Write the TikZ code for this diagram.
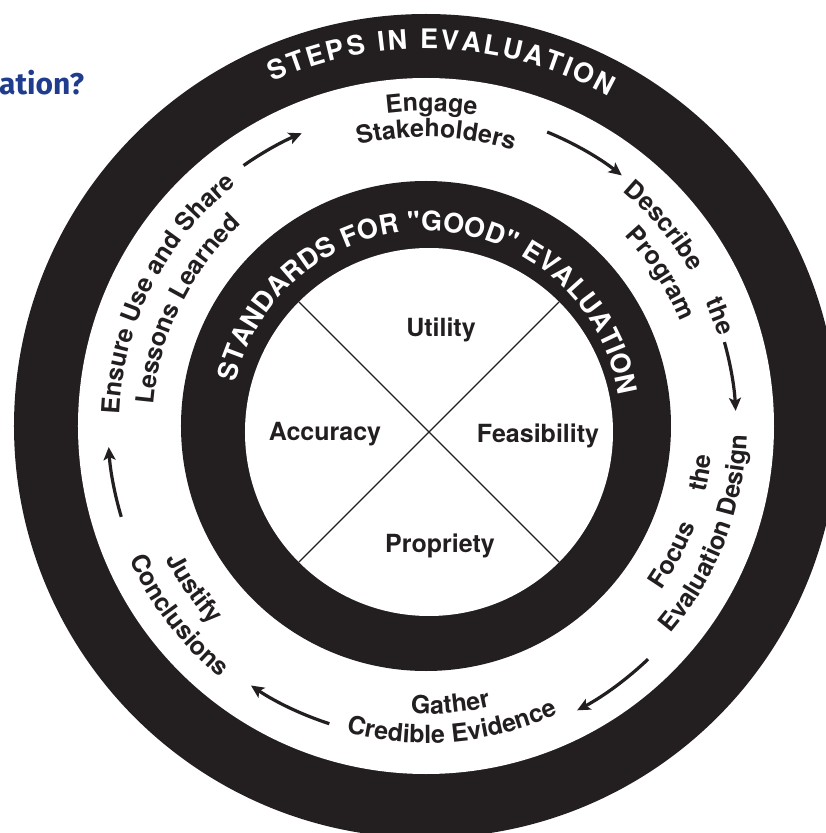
\documentclass[tikz,border=0pt]{standalone}
\usepackage{fontspec}
\newfontfamily\heros{TeX Gyre Heros}
\newfontfamily\headfont{Fira Sans}
\usetikzlibrary{decorations.text,arrows.meta}
\definecolor{evdark}{HTML}{231F20}
\definecolor{evblue}{HTML}{1F3D8C}
\newcommand\ringfont{\heros\bfseries\fontsize{27}{30}\selectfont}
\newcommand\stepfont{\heros\bfseries\fontsize{25}{28}\selectfont}

\begin{document}
\begin{tikzpicture}[x=1pt, y=1pt,
    steptext/.style={decorate, decoration={text along path, text align=center, text color=evdark, text={|\stepfont|#1}}},
    fitstep/.style={decorate, decoration={text along path, text align={fit to path stretching spaces}, text color=evdark, text={|\stepfont|#1}}},
    ringtext/.style={decorate, decoration={text along path, text align={fit to path}, text color=white, text={|\ringfont|#1}}},
    steparrow/.style={evdark, line width=3.2pt, -{Stealth[length=13pt, width=12pt, inset=3pt]}},
    standard/.style={font=\stepfont, text=evdark, anchor=base, inner sep=0pt}]
    \useasboundingbox (-426,-407) rectangle (400,426);
    \clip (-426,-407) rectangle (400,426);

    % Rings
    \fill[evdark] (0,0) circle[radius=412];
    \fill[white] (0,0) circle[radius=348];
    \fill[evdark] (0,0) circle[radius=245];
    \fill[white] (3,-6) circle[radius=184];

    % Cross in the inner disc
    \draw[evdark, line width=1.1pt, shift={(3,-6)}] (135:184) -- (-45:184);
    \draw[evdark, line width=1.1pt, shift={(3,-6)}] (45:184) -- (225:184);

    % Standards
    \node[standard] (utility) at (15,89) {Utility};
    \node[standard] (accuracy) at (-101,-14) {Accuracy};
    \node[standard] (feasibility) at (112,-16) {Feasibility};
    \node[standard] (propriety) at (14,-126) {Propriety};

    % Ring titles
    \path[ringtext={STEPS IN EVALUATION}] (114:377) arc[start angle=114, end angle=61, radius=377];
    \path[ringtext={STANDARDS FOR "GOOD" EVALUATION}] (167:195) arc[start angle=167, end angle=9, radius=195];

    % Steps, clockwise from the top
    \path[steptext={Engage}] (129:315) arc[start angle=129, end angle=49, radius=315];
    \path[steptext={Stakeholders}] (128:289) arc[start angle=128, end angle=48, radius=289];
    \path[fitstep={Describe the}] (50:306) arc[start angle=50, end angle=17, radius=306];
    \path[steptext={Program}] (73:275) arc[start angle=73, end angle=-7, radius=275];
    \path[fitstep={Focus the}] (-35:287) arc[start angle=-35, end angle=-6, radius=287];
    \path[steptext={Evaluation Design}] (-61:321) arc[start angle=-61, end angle=19, radius=321];
    \path[steptext={Gather}] (-125:288) arc[start angle=-125, end angle=-45, radius=288];
    \path[steptext={Credible Evidence}] (-125:317) arc[start angle=-125, end angle=-45, radius=317];
    \path[steptext={Justify}] (175:292) arc[start angle=175, end angle=255, radius=292];
    \path[steptext={Conclusions}] (177.5:325) arc[start angle=177.5, end angle=257.5, radius=325];
    \path[steptext={Ensure Use and Share}] (193:307) arc[start angle=193, end angle=113, radius=307];
    \path[steptext={Lessons Learned}] (194:273) arc[start angle=194, end angle=114, radius=273];

    % Arrows between the steps
    \draw[steparrow] (125:318) arc[start angle=125, end angle=113, radius=318];
    \draw[steparrow] (67.6:318) arc[start angle=67.6, end angle=52, radius=318];
    \draw[steparrow] (15.7:310) arc[start angle=15.7, end angle=2.8, radius=310];
    \draw[steparrow] (-46.4:322) arc[start angle=-46.4, end angle=-62, radius=322];
    \draw[steparrow] (-108:313) arc[start angle=-108, end angle=-124, radius=313];
    \draw[steparrow] (196.6:318) arc[start angle=196.6, end angle=183.8, radius=318];

    % Heading
    \node[font=\headfont\bfseries\fontsize{30}{34}\selectfont, text=evblue, anchor=base west, inner sep=0pt] (heading) at (-427,331) {ation?};
\end{tikzpicture}
\end{document}
